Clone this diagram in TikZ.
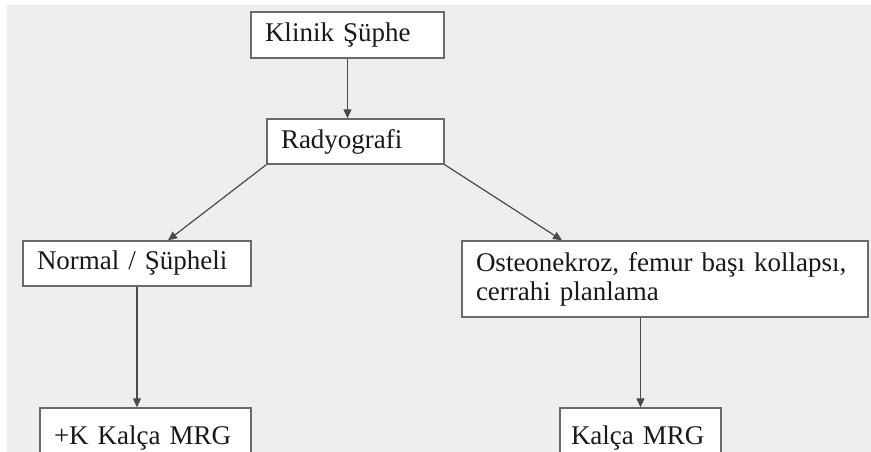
\documentclass[tikz,border=0pt]{standalone}
\usepackage{fontspec}
\setmainfont{Liberation Serif}
\usepackage{xcolor}
\usetikzlibrary{arrows.meta}

\definecolor{bggray}{HTML}{EEEEEE}
\definecolor{framegray}{HTML}{6A6A6A}
\definecolor{arrowgray}{HTML}{4A4A4A}

\begin{document}
\begin{tikzpicture}[x=1pt,y=-1pt,
  box/.style={draw=framegray,line width=1.4pt,fill=white,align=left,
    inner xsep=14pt,inner ysep=0pt,minimum height=45pt,text=black!90,
    font=\fontsize{27}{29}\selectfont},
  link/.style={draw=arrowgray,line width=1.2pt,
    -{Triangle[length=9pt,width=8pt]}}]
\useasboundingbox (0,0) rectangle (871,452);
% Background
\fill[bggray] (7,5) rectangle (871,452);
% Boxes
\node[box,text width=165pt,minimum height=46pt] (klinik) at (347.5,35) {Klinik Şüphe};
\node[box,text width=149pt] (radyo) at (355.5,141.5) {Radyografi};
\node[box,text width=200pt] (normal) at (137,263.5) {Normal / Şüpheli};
\node[box,text width=378pt,minimum height=76pt] (osteo) at (665,279)
  {Osteonekroz, femur başı kollapsı,\\cerrahi planlama};
\node[box,text width=183pt,minimum height=60pt] (kmrg) at (145.5,438) {+K Kalça MRG};
\node[box,inner xsep=11pt,text width=139pt,minimum height=60pt] (kalca) at (640.5,438)
  {Kalça MRG};
% Arrows
\draw[link] (klinik.south) -- (klinik.south |- radyo.north);
\draw[link] (radyo.south west) -- ([xshift=31pt]normal.north);
\draw[link] (radyo.south east) -- ([xshift=-103pt]osteo.north);
\draw[link] (normal.south) -- (normal.south |- kmrg.north);
\draw[link] (kalca.north |- osteo.south) -- (kalca.north);
\end{tikzpicture}
\end{document}
